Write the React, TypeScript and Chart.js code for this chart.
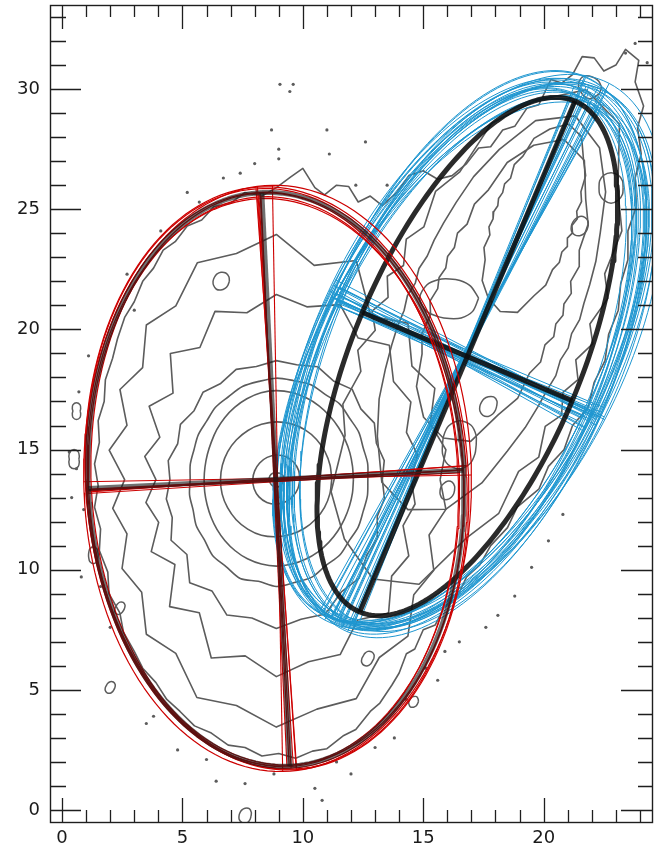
import React, { useEffect, useRef } from 'react';
import { Chart, registerables } from 'chart.js';

Chart.register(...registerables);

// ---- axes ----
const xRange = [-0.5, 24.5];
const yRange = [-0.5, 33.5];
const xLabelTicks = [0, 5, 10, 15, 20];
const yLabelTicks = [0, 5, 10, 15, 20, 25, 30];
const xMinorTicks = Array.from({ length: 25 }, (_, i) => i);
const yMinorTicks = Array.from({ length: 34 }, (_, i) => i);

// ---- fitted ellipses (centre x, centre y, semi-major, semi-minor, angle in degrees) ----
const leftFit = [8.88, 13.76, 11.95, 7.8, 92.8];
const rightFit = [16.83, 18.87, 11.53, 4.73, 67.2];

// ---- resampled ellipses around the left component ----
const redCx = [8.84, 8.92, 8.8, 8.95, 8.86, 8.9, 8.83];
const redCy = [13.72, 13.8, 13.68, 13.8, 13.66, 13.78, 13.74];
const redA = [12.0, 12.15, 11.85, 12.2, 11.8, 12.1, 11.95];
const redB = [7.85, 7.95, 7.7, 8.05, 7.8, 7.9, 7.62];
const redAngle = [93.2, 93.8, 92.6, 91.0, 93.6, 94.0, 92.9];

// ---- resampled ellipses around the right component ----
const blueCx = [16.75, 16.6, 16.9, 16.55, 16.7, 16.65, 16.95, 16.6, 16.8, 16.5, 16.7, 16.85, 16.55, 16.75, 16.65, 16.9, 16.6, 16.8, 16.5, 16.7, 16.85, 16.6];
const blueCy = [18.9, 18.75, 19.1, 18.7, 19.0, 18.85, 19.15, 18.8, 18.95, 18.65, 18.85, 19.05, 18.7, 18.9, 18.8, 19.1, 18.75, 18.95, 18.65, 18.85, 19.0, 18.75];
const blueA = [12.1, 11.9, 12.4, 12.0, 12.3, 11.85, 12.5, 12.2, 12.0, 11.95, 12.35, 12.15, 12.05, 12.45, 11.95, 12.25, 12.1, 12.55, 11.9, 12.2, 12.3, 12.0];
const blueB = [5.8, 5.55, 6.1, 5.9, 6.2, 5.5, 6.3, 6.0, 5.7, 5.85, 6.05, 5.95, 5.65, 6.15, 5.75, 6.25, 5.9, 6.1, 5.6, 5.8, 6.0, 5.7];
const blueAngle = [66.5, 63.8, 67.2, 61.5, 65.0, 67.8, 62.5, 64.5, 68.2, 60.8, 65.8, 63.0, 66.0, 62.0, 67.5, 64.0, 61.2, 66.8, 63.5, 65.4, 62.8, 64.8];

// ---- isophote contours of the left component: radii every 360/n degrees ----
const leftCentre = [8.9, 13.75];
const leftLevel1 = [0.3, 0.32, 0.3, 0.28, 0.3, 0.31, 0.3, 0.29, 0.3, 0.32, 0.3, 0.29];
const leftLevel2 = [0.98, 1.0, 1.02, 1.03, 1.02, 1.0, 0.98, 0.97, 0.98, 1.0, 1.02, 1.03, 1.02, 1.0, 0.98, 0.97];
const leftLevel3 = [2.3, 2.31, 2.33, 2.36, 2.39, 2.4, 2.4, 2.38, 2.36, 2.34, 2.33, 2.32, 2.32, 2.33, 2.34, 2.36, 2.38, 2.4, 2.38, 2.36, 2.34, 2.32, 2.31, 2.3];
const leftLevel4 = [3.2, 3.21, 3.25, 3.3, 3.37, 3.45, 3.54, 3.62, 3.68, 3.7, 3.67, 3.58, 3.47, 3.35, 3.23, 3.12, 3.05, 3.01, 3.0, 3.02, 3.06, 3.13, 3.22, 3.32, 3.42, 3.51, 3.57, 3.6, 3.58, 3.53, 3.47, 3.4, 3.33, 3.27, 3.23, 3.21];
const leftLevel5 = [3.8, 3.85, 3.84, 3.95, 3.97, 4.1, 4.08, 4.2, 4.18, 4.22, 4.15, 4.12, 3.98, 3.93, 3.78, 3.74, 3.64, 3.63, 3.58, 3.66, 3.68, 3.84, 3.9, 4.12, 4.18, 4.38, 4.3, 4.45, 4.35, 4.32, 4.12, 4.1, 3.95, 3.93, 3.84, 3.84];
const leftLevel6 = [4.4, 4.55, 4.42, 4.7, 4.58, 4.9, 4.74, 5.0, 4.85, 4.95, 4.78, 4.88, 4.62, 4.74, 4.46, 4.6, 4.36, 4.56, 4.42, 4.64, 4.6, 5.05, 4.85, 5.6, 5.35, 6.0, 5.85, 6.2, 5.9, 5.95, 5.4, 5.35, 4.9, 4.85, 4.46, 4.56];
const leftLevel7 = [5.6, 5.95, 5.75, 6.45, 6.35, 7.3, 6.8, 7.75, 7.3, 7.7, 7.05, 7.45, 6.35, 6.85, 5.6, 6.1, 5.15, 5.55, 5.0, 5.5, 5.2, 6.0, 5.5, 6.9, 6.4, 7.9, 7.45, 8.2, 7.7, 7.75, 6.75, 7.25, 6.25, 6.35, 5.6, 5.85];
const leftLevel8 = [6.8, 7.15, 6.8, 7.6, 7.35, 8.5, 7.85, 9.7, 9.05, 10.2, 9.55, 9.6, 8.35, 8.4, 7.25, 7.5, 6.6, 7.05, 6.3, 6.9, 6.6, 7.4, 7.3, 8.4, 8.35, 9.65, 9.55, 10.3, 9.7, 9.7, 8.55, 8.5, 7.45, 7.55, 6.75, 7.15];
const leftLevels = [leftLevel1, leftLevel2, leftLevel3, leftLevel4, leftLevel5, leftLevel6, leftLevel7, leftLevel8];

// ---- outer isophote enclosing both components ----
const outerX = [8.3, 7.6, 7.0, 6.3, 5.8, 5.2, 4.7, 4.2, 3.8, 3.35, 3.0, 2.6, 2.3, 2.1, 1.8, 1.75, 1.5, 1.55, 1.35, 1.5, 1.35, 1.6, 1.55, 1.9, 1.95, 2.4, 2.55, 3.0, 3.35, 3.9, 4.35, 4.9, 5.5, 6.2, 6.9, 7.6, 8.3, 9.0, 9.7, 10.4, 11.0, 11.7, 12.2, 12.8, 13.2, 13.7, 14.0, 14.3, 14.65, 15.0, 15.5, 15.9, 16.4, 16.8, 17.35, 17.8, 18.5, 18.9, 19.8, 20.2, 20.85, 21.2, 21.85, 22.1, 22.55, 22.7, 23.1, 23.2, 23.5, 23.5, 23.85, 23.8, 24.05, 23.9, 24.15, 23.8, 23.95, 23.4, 23.0, 22.5, 22.1, 21.6, 21.2, 20.75, 20.3, 19.8, 19.3, 18.8, 18.3, 17.8, 17.3, 16.8, 16.2, 15.6, 15.0, 14.4, 13.9, 13.3, 12.8, 12.3, 11.9, 11.4, 10.9, 10.5, 10.0, 9.5, 8.9, 8.3];
const outerY = [25.55, 25.7, 25.25, 25.1, 24.55, 24.3, 23.65, 23.3, 22.55, 22.0, 21.15, 20.5, 19.6, 18.8, 17.9, 17.0, 16.2, 15.3, 14.4, 13.5, 12.6, 11.7, 10.8, 9.9, 9.0, 8.2, 7.4, 6.6, 5.9, 5.3, 4.6, 4.1, 3.5, 3.2, 2.7, 2.6, 2.25, 2.35, 2.15, 2.45, 2.55, 3.1, 3.35, 4.1, 4.45, 5.2, 5.7, 6.5, 6.7, 7.5, 7.7, 8.5, 8.85, 9.7, 10.2, 11.0, 11.75, 12.6, 13.35, 14.3, 15.0, 16.0, 16.75, 17.8, 18.7, 19.8, 20.8, 21.9, 22.9, 24.1, 25.1, 26.3, 27.3, 28.4, 29.3, 30.3, 31.2, 31.65, 31.0, 30.75, 31.3, 31.35, 30.6, 30.25, 30.4, 29.35, 29.2, 28.45, 28.3, 27.6, 27.55, 26.9, 26.4, 26.25, 26.6, 26.4, 25.7, 25.15, 25.55, 25.3, 25.95, 26.0, 25.6, 25.9, 26.7, 26.35, 25.9, 25.55];

// ---- isophote contours of the right component, radii relative to its long axis ----
const rightCentreX = [17.3, 17.8, 18.3, 19.6];
const rightCentreY = [19.7, 20.6, 21.6, 24.6];
const rightTilt = [66.5, 67, 68, 70];
const rightLevel1 = [11.2, 10.1, 8.9, 6.9, 6.3, 5.1, 5.05, 4.3, 4.55, 4.1, 4.55, 4.3, 5.05, 5.1, 6.3, 6.9, 8.9, 10.1, 11.0, 10.6, 8.4, 7.4, 5.85, 5.6, 4.65, 4.75, 4.2, 4.5, 4.15, 4.75, 4.65, 5.6, 5.85, 7.4, 8.4, 10.6];
const rightLevel2 = [9.0, 8.3, 6.9, 5.8, 4.9, 4.3, 3.9, 3.6, 3.55, 3.4, 3.55, 3.6, 3.9, 4.3, 4.9, 5.8, 6.9, 8.3, 8.8, 8.3, 7.0, 5.7, 4.9, 4.3, 3.9, 3.7, 3.45, 3.5, 3.45, 3.7, 3.9, 4.3, 4.9, 5.7, 7.0, 8.3];
const rightLevel3 = [6.8, 6.2, 5.35, 4.25, 3.8, 3.15, 3.05, 2.7, 2.7, 2.55, 2.7, 2.7, 3.05, 3.15, 3.8, 4.25, 5.35, 6.2, 6.6, 6.4, 5.15, 4.5, 3.6, 3.35, 2.85, 2.85, 2.6, 2.7, 2.6, 2.85, 2.85, 3.35, 3.6, 4.5, 5.15, 6.4];
const rightLevel4 = [4.2, 3.8, 3.35, 2.65, 2.4, 1.95, 1.9, 1.7, 1.7, 1.6, 1.7, 1.7, 1.9, 1.95, 2.4, 2.65, 3.35, 3.8, 4.1, 3.95, 3.2, 2.8, 2.25, 2.1, 1.8, 1.8, 1.6, 1.7, 1.6, 1.8, 1.8, 2.1, 2.25, 2.8, 3.2, 3.95];
const rightLevels = [rightLevel1, rightLevel2, rightLevel3, rightLevel4];

// ---- small isolated isophote islands ----
const islandX = [16.1, 22.8, 21.9, 16.5, 21.5, 7.6, 6.6, 16.0, 17.7, 0.5, 1.3, 2.4, 12.7, 0.6, 2.0, 14.6];
const islandY = [21.3, 25.9, 30.1, 15.2, 24.3, -0.25, 22.0, 13.3, 16.8, 14.6, 10.6, 8.4, 6.3, 16.6, 5.1, 4.5];
const islandRadii = [
  [1.2, 1.0, 0.85, 0.8, 0.9, 1.1, 1.25, 1.1, 0.9, 0.85, 0.95, 1.1],
  [0.5, 0.55, 0.6, 0.62, 0.6, 0.55, 0.5, 0.55, 0.6, 0.65, 0.6, 0.55],
  [0.5, 0.45, 0.42, 0.45, 0.5, 0.48, 0.45, 0.42, 0.45, 0.5, 0.48, 0.5],
  [0.7, 0.8, 0.95, 1.0, 0.9, 0.75, 0.7, 0.8, 0.95, 1.0, 0.9, 0.75],
  [0.35, 0.4, 0.42, 0.4, 0.35, 0.33, 0.35, 0.4, 0.42, 0.4, 0.36, 0.34],
  [0.25, 0.3, 0.35, 0.32, 0.28, 0.25, 0.25, 0.28, 0.3, 0.3, 0.28, 0.25],
  [0.35, 0.38, 0.4, 0.38, 0.35, 0.32, 0.33, 0.35, 0.38, 0.36, 0.34, 0.33],
  [0.3, 0.35, 0.4, 0.38, 0.32, 0.3, 0.3, 0.34, 0.4, 0.38, 0.33, 0.3],
  [0.35, 0.42, 0.45, 0.4, 0.36, 0.33, 0.35, 0.4, 0.44, 0.42, 0.37, 0.34],
  [0.2, 0.25, 0.35, 0.4, 0.35, 0.25, 0.2, 0.25, 0.35, 0.4, 0.35, 0.25],
  [0.2, 0.22, 0.3, 0.35, 0.3, 0.22, 0.2, 0.22, 0.3, 0.35, 0.3, 0.22],
  [0.2, 0.25, 0.28, 0.25, 0.2, 0.18, 0.2, 0.25, 0.28, 0.25, 0.2, 0.18],
  [0.25, 0.3, 0.32, 0.3, 0.25, 0.22, 0.25, 0.3, 0.32, 0.3, 0.25, 0.22],
  [0.15, 0.2, 0.3, 0.35, 0.3, 0.2, 0.15, 0.2, 0.3, 0.35, 0.3, 0.2],
  [0.2, 0.24, 0.26, 0.24, 0.2, 0.18, 0.2, 0.24, 0.26, 0.24, 0.2, 0.18],
  [0.2, 0.22, 0.25, 0.22, 0.2, 0.18, 0.2, 0.22, 0.25, 0.22, 0.2, 0.18],
];

// ---- single-pixel specks above the noise threshold ----
const speckX = [9.05, 9.46, 9.6, 8.7, 11.0, 9.0, 9.0, 11.1, 8.0, 7.4, 6.7, 12.2, 13.5, 23.8, 23.4, 24.3, 0.3, 0.6, 0.4, 0.9, 0.8, 1.6, 2.0, 3.5, 4.8, 6.4, 7.6, 10.5, 12.0, 13.8, 15.1, 15.6, 16.5, 17.6, 18.8, 19.5, 20.8, 12.6, 5.2, 3.0, 14.3, 10.8, 0.7, 1.1, 2.7, 4.1, 5.7, 8.8, 11.4, 13.0, 15.9, 18.1, 20.2, 6.0, 3.8];
const speckY = [30.2, 29.9, 30.2, 28.3, 28.3, 27.5, 27.1, 27.3, 26.9, 26.5, 26.3, 26.0, 26.0, 31.9, 31.5, 31.1, 14.9, 14.2, 13.0, 12.5, 9.7, 9.3, 7.6, 3.6, 2.5, 1.2, 1.1, 0.9, 1.5, 3.0, 5.9, 5.4, 7.0, 7.6, 8.9, 10.1, 12.3, 27.8, 25.7, 20.8, 4.6, 0.4, 17.4, 18.9, 22.3, 24.1, 25.3, 1.5, 2.0, 2.6, 6.6, 8.1, 11.2, 2.1, 3.9];

// ---- styles ----
const CONTOUR = 'rgb(92,92,92)';
const RED = 'rgb(205,0,0)';
const BLUE = 'rgb(30,150,208)';
const FIT_ON_BLUE = 'rgba(12,12,12,0.88)';
const FIT_ON_RED = 'rgba(25,25,25,0.62)';
const FONT = 'DejaVu Sans';

type P = { x: number; y: number };

function ellipsePoints(cx: number, cy: number, a: number, b: number, angle: number, n = 160): P[] {
  const t = (angle * Math.PI) / 180;
  const ct = Math.cos(t);
  const st = Math.sin(t);
  const pts: P[] = [];
  for (let i = 0; i <= n; i++) {
    const s = (2 * Math.PI * i) / n;
    const u = a * Math.cos(s);
    const v = b * Math.sin(s);
    pts.push({ x: cx + u * ct - v * st, y: cy + u * st + v * ct });
  }
  return pts;
}

function axisSegments(cx: number, cy: number, a: number, b: number, angle: number): P[][] {
  const t = (angle * Math.PI) / 180;
  const ct = Math.cos(t);
  const st = Math.sin(t);
  return [
    [{ x: cx - a * ct, y: cy - a * st }, { x: cx + a * ct, y: cy + a * st }],
    [{ x: cx + b * st, y: cy - b * ct }, { x: cx - b * st, y: cy + b * ct }],
  ];
}

function polarLoop(cx: number, cy: number, radii: number[], tilt = 0): P[] {
  const n = radii.length;
  const pts: P[] = [];
  for (let i = 0; i <= n; i++) {
    const r = radii[i % n];
    const t = ((tilt + (360 * i) / n) * Math.PI) / 180;
    pts.push({ x: cx + r * Math.cos(t), y: cy + r * Math.sin(t) });
  }
  return pts;
}

function lineSet(data: P[], color: string, width: number, order: number, tension = 0) {
  return {
    data,
    showLine: true,
    borderColor: color,
    backgroundColor: color,
    borderWidth: width,
    pointRadius: 0,
    pointHoverRadius: 0,
    fill: false,
    tension,
    order,
    borderCapStyle: 'butt' as const,
    borderJoinStyle: 'round' as const,
  };
}

function buildDatasets() {
  const sets: any[] = [];

  // isophotes
  leftLevels.forEach((radii, i) => {
    sets.push(lineSet(polarLoop(leftCentre[0], leftCentre[1], radii), CONTOUR, 1.6, 9, i < 5 ? 0.3 : 0));
  });
  sets.push(lineSet(outerX.map((x, i) => ({ x, y: outerY[i] })), CONTOUR, 1.6, 9));
  rightLevels.forEach((radii, i) => {
    sets.push(lineSet(polarLoop(rightCentreX[i], rightCentreY[i], radii, rightTilt[i]), CONTOUR, 1.6, 9));
  });
  islandRadii.forEach((radii, i) => {
    sets.push(lineSet(polarLoop(islandX[i], islandY[i], radii), CONTOUR, 1.5, 9, 0.3));
  });
  sets.push({
    data: speckX.map((x, i) => ({ x, y: speckY[i] })),
    showLine: false,
    pointRadius: 1.6,
    pointBorderWidth: 0,
    pointBackgroundColor: CONTOUR,
    order: 9,
  });

  // right component: resampled ellipses and their axes
  blueCx.forEach((cx, i) => {
    const args = [cx, blueCy[i], blueA[i], blueB[i], blueAngle[i]] as const;
    sets.push(lineSet(ellipsePoints(...args), BLUE, 1, 6));
    axisSegments(...args).forEach((seg) => sets.push(lineSet(seg, BLUE, 1, 6)));
  });

  // right component: fitted ellipse
  {
    const [cx, cy, a, b, ang] = rightFit;
    sets.push(lineSet(ellipsePoints(cx, cy, a, b, ang, 240), FIT_ON_BLUE, 5, 5));
    axisSegments(cx, cy, a, b, ang).forEach((seg) => sets.push(lineSet(seg, FIT_ON_BLUE, 5, 5)));
  }

  // left component: resampled ellipses and their axes
  redCx.forEach((cx, i) => {
    const args = [cx, redCy[i], redA[i], redB[i], redAngle[i]] as const;
    sets.push(lineSet(ellipsePoints(...args), RED, 1.2, 4));
    axisSegments(...args).forEach((seg) => sets.push(lineSet(seg, RED, 1.1, 4)));
  });

  // left component: fitted ellipse
  {
    const [cx, cy, a, b, ang] = leftFit;
    sets.push(lineSet(ellipsePoints(cx, cy, a, b, ang, 240), FIT_ON_RED, 5, 3));
    axisSegments(cx, cy, a, b, ang).forEach((seg) => sets.push(lineSet(seg, FIT_ON_RED, 5, 3)));
  }

  return sets;
}

// frame with inward ticks on all four sides
const frameTicks = {
  id: 'frameTicks',
  afterDraw(chart: any) {
    const { ctx, chartArea } = chart;
    const { left, right, top, bottom } = chartArea;
    const xs = chart.scales.x;
    const ys = chart.scales.y;
    ctx.save();
    ctx.strokeStyle = '#1e1e1e';
    ctx.lineWidth = 1.3;
    ctx.beginPath();
    xMinorTicks.forEach((v) => {
      const px = Math.round(xs.getPixelForValue(v)) + 0.5;
      const len = v % 5 === 0 ? 24 : 12;
      ctx.moveTo(px, bottom);
      ctx.lineTo(px, bottom - len);
      ctx.moveTo(px, top);
      ctx.lineTo(px, top + len);
    });
    yMinorTicks.forEach((v) => {
      const py = Math.round(ys.getPixelForValue(v)) + 0.5;
      const big = v % 5 === 0;
      ctx.moveTo(left, py);
      ctx.lineTo(left + (big ? 31 : 16), py);
      ctx.moveTo(right, py);
      ctx.lineTo(right - (big ? 31 : 14), py);
    });
    ctx.stroke();
    ctx.lineWidth = 1.4;
    ctx.strokeRect(Math.round(left) + 0.5, Math.round(top) + 0.5, Math.round(right - left), Math.round(bottom - top));
    ctx.restore();
  },
};

export default function App() {
  const canvasRef = useRef<HTMLCanvasElement | null>(null);

  useEffect(() => {
    const canvas = canvasRef.current;
    if (!canvas) return;
    const chart = new Chart(canvas, {
      type: 'scatter',
      data: { datasets: buildDatasets() },
      options: {
        animation: false,
        responsive: false,
        maintainAspectRatio: false,
        devicePixelRatio: 1,
        events: [],
        layout: { padding: { top: 5, right: 8, left: 0, bottom: 0 } },
        plugins: { legend: { display: false }, tooltip: { enabled: false } },
        scales: {
          x: {
            type: 'linear',
            position: 'bottom',
            min: xRange[0],
            max: xRange[1],
            grid: { display: false, drawTicks: false },
            border: { display: false },
            afterBuildTicks: (scale: any) => {
              scale.ticks = xLabelTicks.map((value) => ({ value }));
            },
            afterFit: (scale: any) => {
              scale.height = 29;
              scale.paddingLeft = 0;
              scale.paddingRight = 0;
            },
            ticks: {
              autoSkip: false,
              maxRotation: 0,
              padding: 6,
              color: '#1a1a1a',
              font: { family: FONT, size: 18 },
              callback: (v: any) => String(v),
            },
          },
          y: {
            type: 'linear',
            position: 'left',
            min: yRange[0],
            max: yRange[1],
            grid: { display: false, drawTicks: false },
            border: { display: false },
            afterBuildTicks: (scale: any) => {
              scale.ticks = yLabelTicks.map((value) => ({ value }));
            },
            afterFit: (scale: any) => {
              scale.width = 50;
              scale.paddingTop = 0;
              scale.paddingBottom = 0;
            },
            ticks: {
              autoSkip: false,
              padding: 10,
              color: '#1a1a1a',
              font: { family: FONT, size: 18 },
              callback: (v: any) => String(v),
            },
          },
        },
      },
      plugins: [frameTicks],
    });
    return () => chart.destroy();
  }, []);

  return (
    <div style={{ position: 'absolute', left: 0, top: 0, width: 660, height: 851, background: '#fff' }}>
      <canvas ref={canvasRef} width={660} height={851} style={{ display: 'block' }} />
    </div>
  );
}
